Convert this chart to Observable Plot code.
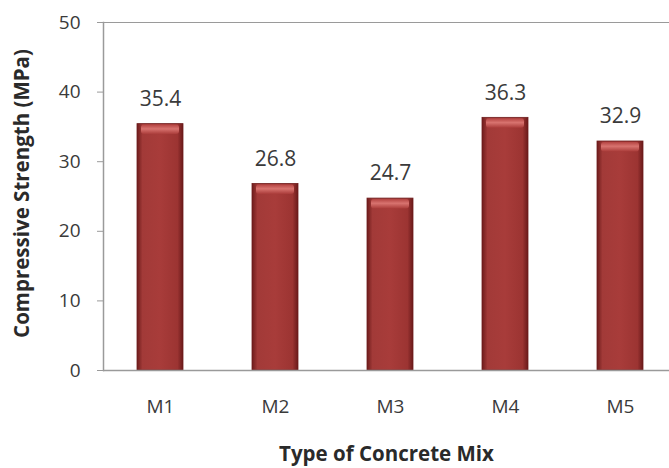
<!DOCTYPE html>
<html>
<head>
<meta charset="utf-8">
<script src="https://cdn.jsdelivr.net/npm/d3@7"></script>
<script src="https://cdn.jsdelivr.net/npm/@observablehq/plot@0.6"></script>
<style>
  html, body { margin: 0; padding: 0; background: #fff; }
  #chart svg { display: block; }
</style>
</head>
<body>
<div id="chart"></div>
<script>
// Compressive strength of each concrete mix
const mixes = ["M1", "M2", "M3", "M4", "M5"];
const strength = [35.4, 26.8, 24.7, 36.3, 32.9];
const yTicks = [0, 10, 20, 30, 40, 50];
const xTitle = "Type of Concrete Mix";
const yTitle = "Compressive Strength (MPa)";

const data = mixes.map((m, i) => ({mix: m, value: strength[i]}));

const font = "'Open Sans', 'Liberation Sans', sans-serif";
const axisGray = "#9a9a9a";
const textGray = "#3a3a3a";

const chart = Plot.plot({
  width: 669,
  height: 468,
  marginLeft: 103,
  marginRight: 0,
  marginTop: 22,
  marginBottom: 98,
  style: {fontFamily: font, background: "#fff"},
  // each category gets an equal slot; the bar fills 40% of it
  x: {domain: mixes, range: [103, 678], paddingInner: 0.6, paddingOuter: 0.3, label: null},
  y: {domain: [0, 50], label: null},
  marks: [
    // shading for the bar bodies and their bevelled tops
    () => {
      const svg = d3.create("svg:defs");
      const g = svg.append("linearGradient").attr("id", "barGrad").attr("x1", "0").attr("x2", "1").attr("y1", "0").attr("y2", "0");
      g.append("stop").attr("offset", "0%").attr("stop-color", "#6e1c1c");
      g.append("stop").attr("offset", "12%").attr("stop-color", "#a23a38");
      g.append("stop").attr("offset", "50%").attr("stop-color", "#a83c3a");
      g.append("stop").attr("offset", "88%").attr("stop-color", "#9c3432");
      g.append("stop").attr("offset", "100%").attr("stop-color", "#6a1a1a");
      const c = svg.append("linearGradient").attr("id", "capGrad").attr("x1", "0").attr("x2", "0").attr("y1", "0").attr("y2", "1");
      c.append("stop").attr("offset", "0%").attr("stop-color", "#b44442");
      c.append("stop").attr("offset", "45%").attr("stop-color", "#d8736f");
      c.append("stop").attr("offset", "100%").attr("stop-color", "#aa3c3a");
      return svg.node();
    },
    Plot.axisY({ticks: yTicks, tickSize: 6, tickPadding: 17, stroke: axisGray, fontSize: 19, color: textGray, label: null}),
    Plot.axisX({tickSize: 0, tickPadding: 29, fontSize: 19, color: textGray, label: null}),
    Plot.barY(data, {x: "mix", y: "value", fill: "url(#barGrad)", stroke: "#6e1c1c", strokeWidth: 0.8}),
    Plot.barY(data, {x: "mix", y1: d => d.value - 1.5, y2: "value", fill: "url(#capGrad)", insetLeft: 4, insetRight: 4, insetTop: 1, rx: 3}),
    Plot.ruleY([0], {stroke: axisGray, strokeWidth: 1.5}),
    Plot.ruleY([50], {stroke: axisGray, strokeWidth: 1.2}),
    Plot.frame({anchor: "left", stroke: axisGray, strokeWidth: 1.5}),
    Plot.text(data, {x: "mix", y: "value", text: d => d.value.toFixed(1), dy: -25, fontSize: 21, fill: textGray}),
    Plot.text([xTitle], {frameAnchor: "bottom", dy: 90, fontSize: 20.5, fontWeight: "bold", fill: "#2a2a2a"}),
    Plot.text([yTitle], {frameAnchor: "left", textAnchor: "middle", dx: -81, dy: -3, rotate: -90, fontSize: 20.5, fontWeight: "bold", fill: "#2a2a2a"})
  ]
});

document.getElementById("chart").appendChild(chart);
</script>
</body>
</html>
